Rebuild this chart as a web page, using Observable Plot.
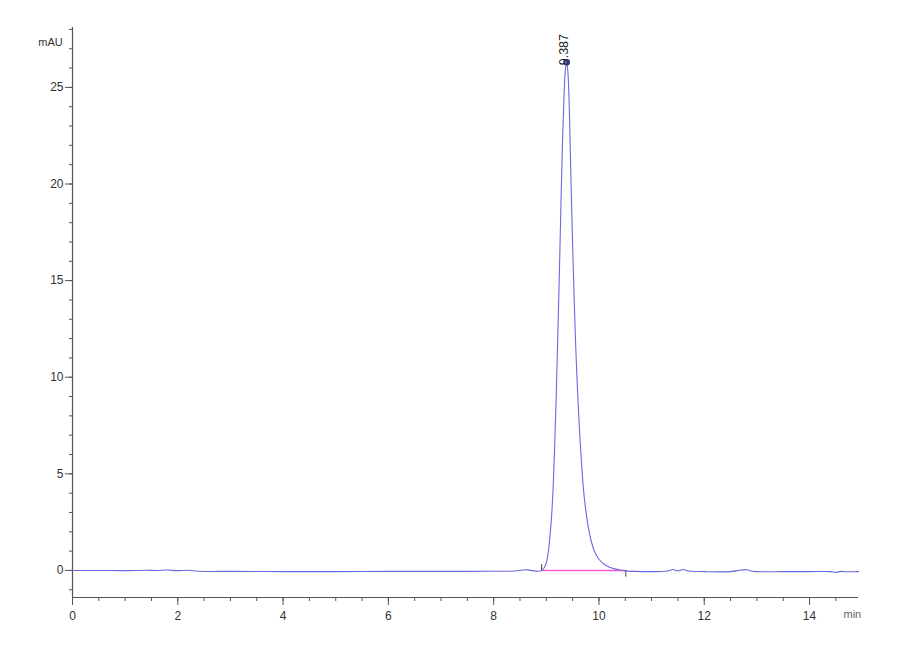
<!DOCTYPE html>
<html>
<head>
<meta charset="utf-8">
<script src="https://cdn.jsdelivr.net/npm/d3@7"></script>
<script src="https://cdn.jsdelivr.net/npm/@observablehq/plot@0.6"></script>
<style>
  html, body { margin: 0; padding: 0; background: #fff; }
  #chart svg { display: block; }
</style>
</head>
<body>
<div id="chart"></div>
<script>
// Retention time (min) and absorbance (mAU)
const time = [0, 0.5, 1.0, 1.4, 1.6, 1.8, 2.0, 2.2, 2.4, 3.0, 4.0, 5.0, 6.0, 7.0, 8.0, 8.4, 8.55, 8.65, 8.75, 8.85,
  8.91, 8.95, 9.00, 9.04, 9.07, 9.10, 9.13, 9.16, 9.19, 9.22, 9.25, 9.28, 9.31, 9.34, 9.365, 9.387, 9.41, 9.44, 9.47,
  9.50, 9.53, 9.56, 9.60, 9.64, 9.68, 9.72, 9.76, 9.80, 9.85, 9.90, 9.95, 10.0, 10.1, 10.2, 10.3, 10.4, 10.5,
  10.7, 11.0, 11.3, 11.4, 11.5, 11.6, 11.7, 12.0, 12.5, 12.7, 12.8, 12.95, 13.5, 14.0, 14.4, 14.5, 14.6, 14.7, 14.93];
const mAU = [0.0, 0.0, -0.01, 0.01, 0.0, 0.02, -0.01, 0.01, -0.04, -0.05, -0.06, -0.06, -0.05, -0.05, -0.04, -0.03, 0.02, 0.03, -0.02, -0.04,
  0.0, 0.1, 0.4, 1.0, 1.8, 2.8, 4.3, 6.5, 9.2, 12.3, 15.6, 19.2, 22.4, 24.8, 26.0, 26.3, 25.8, 23.6, 20.0,
  16.8, 14.0, 11.5, 8.9, 6.8, 5.1, 3.8, 2.9, 2.2, 1.55, 1.1, 0.8, 0.58, 0.32, 0.17, 0.08, 0.02, -0.02,
  -0.05, -0.06, -0.03, 0.05, -0.02, 0.05, -0.03, -0.06, -0.06, 0.02, 0.04, -0.05, -0.06, -0.06, -0.06, -0.1, -0.05, -0.07, -0.06];

// Integration baseline and peak annotation
const baseTime = [8.91, 10.51];
const baseMAU = [0.0, 0.0];
const peakTime = [9.387];
const peakMAU = [26.3];
const peakLabel = ["9.387"];

// Ticks
const xMajor = [0, 2, 4, 6, 8, 10, 12, 14];
const xMinor = d3.range(0, 14.95, 0.5);
const yMajor = [0, 5, 10, 15, 20, 25];
const yMinor = d3.range(-1, 28.5, 1);

const trace = time.map((t, i) => ({t, v: mAU[i]}));
const base = baseTime.map((t, i) => ({t, v: baseMAU[i]}));
const peak = peakTime.map((t, i) => ({t, v: peakMAU[i], label: peakLabel[i]}));

const axisColor = "#555";
const textColor = "#333";

const chart = Plot.plot({
  width: 900,
  height: 660,
  marginLeft: 72,
  marginRight: 42,
  marginTop: 27,
  marginBottom: 63,
  style: {fontFamily: "Liberation Sans, Arial, sans-serif", fontSize: "12px", background: "#fff"},
  x: {domain: [0, 14.93], axis: null, label: null},
  y: {domain: [-1.4, 28.1], axis: null, label: null},
  marks: [
    // frame axes
    Plot.ruleX([0], {stroke: axisColor, strokeWidth: 1.2}),
    Plot.ruleY([-1.4], {stroke: axisColor, strokeWidth: 1.2}),
    // y ticks
    Plot.axisY(yMinor, {tickSize: 3, tickFormat: () => "", stroke: axisColor, strokeWidth: 1, label: null}),
    Plot.axisY(yMajor, {tickSize: 7, tickPadding: 2, stroke: axisColor, fill: textColor, fontSize: 12, label: null}),
    // x ticks
    Plot.axisX(xMinor, {tickSize: 4, tickFormat: () => "", stroke: axisColor, strokeWidth: 1, label: null}),
    Plot.axisX(xMajor, {tickSize: 8, tickPadding: 6, stroke: axisColor, fill: textColor, fontSize: 12, label: null}),
    // integration baseline
    Plot.line(base, {x: "t", y: "v", stroke: "#ff5ccf", strokeWidth: 1.6}),
    Plot.ruleX([baseTime[0]], {y1: 0, y2: 0.3, stroke: "#444", strokeWidth: 1}),
    Plot.ruleX([baseTime[1]], {y1: 0, y2: -0.35, stroke: "#444", strokeWidth: 1}),
    // chromatogram trace
    Plot.line(trace, {x: "t", y: "v", stroke: "#6a6ae0", strokeWidth: 1.1, curve: "catmull-rom"}),
    // peak marker and label
    Plot.dot(peak, {x: "t", y: "v", r: 2.6, stroke: "#2c2c70", strokeWidth: 1.4, fill: "#6a6ae0"}),
    Plot.text(peak, {x: "t", y: "v", text: "label", rotate: -90, textAnchor: "start", dx: -3, dy: 3, fontSize: 12.5, fill: "#222"}),
    // unit labels
    Plot.text(["mAU"], {frameAnchor: "top-left", dx: -22, dy: 11, textAnchor: "middle", fontSize: 11, fill: textColor}),
    Plot.text(["min"], {frameAnchor: "bottom-right", dx: -15, dy: 20, textAnchor: "start", fontSize: 11, fill: "#666"})
  ]
});
document.getElementById("chart").appendChild(chart);
</script>
</body>
</html>
